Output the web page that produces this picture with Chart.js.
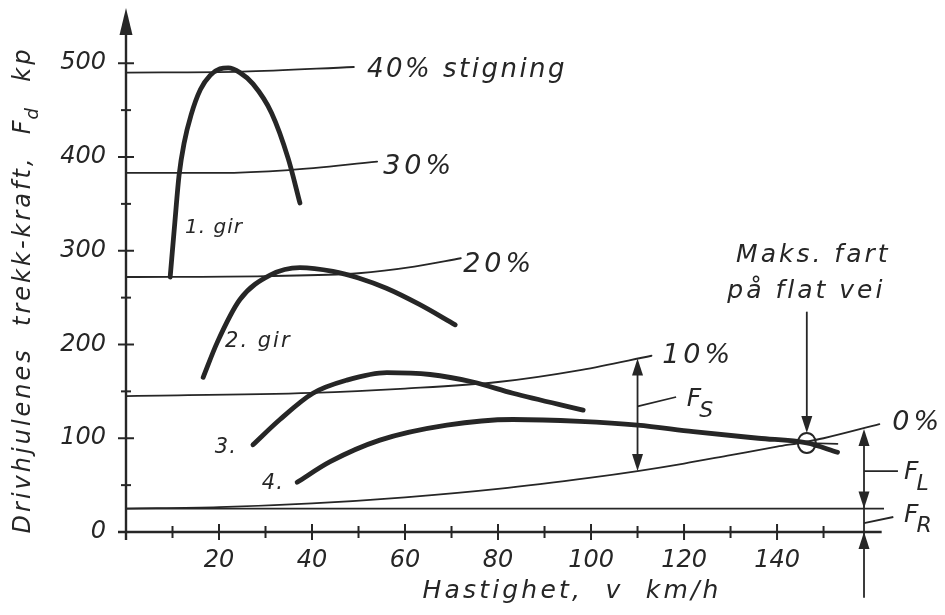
<!DOCTYPE html>
<html>
<head>
<meta charset="utf-8">
<script src="https://cdn.jsdelivr.net/npm/chart.js@4/dist/chart.umd.min.js"></script>
<style>
html,body{margin:0;padding:0;background:#fff;}
#wrap{width:945px;height:615px;position:relative;}
</style>
</head>
<body>
<div id="wrap"><canvas id="c" width="945" height="615"></canvas></div>
<script>
// ---- data (v in km/h, F in kp) ----
const xTickLabels = [20, 40, 60, 80, 100, 120, 140];
const yTickLabels = [0, 100, 200, 300, 400, 500];

const grade40V = [0, 25, 49];
const grade40F = [490, 491, 496];
const grade30V = [0, 20, 35, 54];
const grade30F = [383, 383, 386, 395];
const grade20V = [0, 30, 50, 62, 72];
const grade20F = [272, 273, 276, 283, 292];
const grade10V = [0, 40, 60, 80, 98, 113];
const grade10F = [145, 148.5, 153, 160, 173, 188];
const grade0V = [0, 20, 40, 60, 80, 100, 110, 120, 130, 140, 146, 150, 162];
const grade0F = [25, 26.5, 30.5, 37, 46, 58, 65, 73, 82, 91, 96, 100, 115];
const rollV = [0, 163];
const rollF = [25, 25];

const gear1V = [9.5, 10.5, 11.4, 12.5, 14, 16, 18.1, 20.2, 22, 24.5, 27.3, 31.3, 34.9, 37.4];
const gear1F = [272, 330, 380, 415, 445, 472, 487, 494, 495, 490, 478, 447, 398, 351];
const gear2V = [16.6, 19.6, 24.5, 31, 37.4, 44.5, 50, 56, 63, 70.8];
const gear2F = [165, 202, 248, 274, 282, 278, 271, 260, 243, 221];
const gear3V = [27.3, 33.1, 40.2, 47.5, 56.1, 65.4, 74.6, 83.2, 98.3];
const gear3F = [93, 120, 148, 162, 170, 168, 160, 148, 130];
const gear4V = [36.8, 43.9, 54.6, 69, 83.2, 97.6, 110, 122, 136, 146.4, 153];
const gear4F = [53, 75, 98, 114, 120, 118, 114, 107, 100, 95, 85];
const tailV = [146.4, 153];
const tailF = [95, 94];

// annotation anchors (data units)
const maxSpeed = {v: 146.4, f: 95};
const fsArrow = {v: 110, top: 185, bottom: 65};
const flArrow = {v: 158.7, top: 110, mid: 25};

function pts(vs, fs){ return vs.map((v,i)=>({x:v, y:fs[i]})); }

const INK = '#262626';
function ds(vs, fs, w){
  return {data: pts(vs, fs), borderColor: INK, borderWidth: w, pointRadius: 0,
          cubicInterpolationMode: 'monotone', fill: false, borderCapStyle: 'round', borderJoinStyle: 'round'};
}

const FONT = "'DejaVu Sans'";

function txt(ctx, s, x, y, size, align, spacing){
  ctx.save();
  ctx.font = 'italic ' + size + 'px ' + FONT;
  ctx.letterSpacing = (spacing === undefined ? 2 : spacing) + 'px';
  ctx.fillStyle = INK;
  ctx.textBaseline = 'middle';
  ctx.textAlign = align || 'left';
  ctx.fillText(s, x, y);
  const w = ctx.measureText(s).width;
  ctx.restore();
  return w;
}
function subLabel(ctx, main, sub, x, y, size){
  const w = txt(ctx, main, x, y, size, 'left', 1);
  txt(ctx, sub, x + w - 3, y + 11, size - 3, 'left', 1);
}
function arrowHead(ctx, x, y, dir){
  const L = 17, H = 5.5;
  const s = dir === 'up' ? 1 : -1;
  ctx.beginPath();
  ctx.moveTo(x, y);
  ctx.lineTo(x - H, y + s*L);
  ctx.lineTo(x + H, y + s*L);
  ctx.closePath();
  ctx.fill();
}
function line(ctx, x1, y1, x2, y2, w){
  ctx.lineWidth = w; ctx.beginPath(); ctx.moveTo(x1,y1); ctx.lineTo(x2,y2); ctx.stroke();
}

const decor = {
  id: 'decor',
  beforeDraw(chart){
    const ctx = chart.ctx;
    ctx.save(); ctx.fillStyle = '#fff'; ctx.fillRect(0,0,chart.width,chart.height); ctx.restore();
  },
  afterDraw(chart){
    const ctx = chart.ctx;
    const X = v => chart.scales.x.getPixelForValue(v);
    const Y = f => chart.scales.y.getPixelForValue(f);
    ctx.save();
    ctx.strokeStyle = INK; ctx.fillStyle = INK; ctx.lineCap = 'butt';
    // axes
    const x0 = X(0), y0 = Y(0);
    line(ctx, x0, y0 + 8, x0, 30, 2.4);
    ctx.beginPath(); ctx.moveTo(x0, 8); ctx.lineTo(x0 - 6.5, 35); ctx.lineTo(x0 + 6.5, 35); ctx.closePath(); ctx.fill();
    line(ctx, x0 - 8, y0, X(162.5), y0, 2.4);
    for (let f = 50; f <= 500; f += 50){
      const big = f % 100 === 0;
      line(ctx, x0 - (big ? 8 : 5), Y(f), x0 + (big ? 8 : 5), Y(f), 2);
    }
    line(ctx, x0 - 8, y0, x0, y0, 2);
    for (let v = 10; v <= 150; v += 10){
      const big = v % 20 === 0;
      line(ctx, X(v), y0 - (big ? 8 : 6), X(v), y0 + (big ? 8 : 6), 2);
    }
    // F_S double arrow
    const xs = X(fsArrow.v);
    line(ctx, xs, Y(fsArrow.top) + 10, xs, Y(fsArrow.bottom) - 10, 1.8);
    arrowHead(ctx, xs, Y(fsArrow.top), 'up');
    arrowHead(ctx, xs, Y(fsArrow.bottom), 'down');
    line(ctx, xs, Y(134), X(118.3), Y(144), 1.8);
    subLabel(ctx, 'F', 'S', X(120.6), Y(141), 25);
    // max speed marker
    const xm = X(maxSpeed.v), ym = Y(maxSpeed.f);
    line(ctx, xm, Y(235), xm, ym - 18, 1.8);
    arrowHead(ctx, xm, ym - 10, 'down');
    ctx.lineWidth = 2; ctx.beginPath(); ctx.ellipse(xm, ym, 9, 10, 0, 0, Math.PI*2); ctx.stroke();
    txt(ctx, 'Maks. fart', X(147.8), Y(295), 25, 'center', 3);
    txt(ctx, 'på flat vei', X(146.3), Y(257), 25, 'center', 3);
    // F_L / F_R
    const xl = X(flArrow.v);
    line(ctx, xl, Y(-70), xl, Y(flArrow.top) + 10, 1.8);
    arrowHead(ctx, xl, Y(flArrow.top), 'up');
    arrowHead(ctx, xl, Y(flArrow.mid), 'down');
    arrowHead(ctx, xl, Y(0), 'up');
    line(ctx, xl, Y(65), X(166), Y(65), 1.8);
    line(ctx, xl, Y(9.5), X(165), Y(16), 1.8);
    subLabel(ctx, 'F', 'L', X(167.3), Y(63), 25);
    subLabel(ctx, 'F', 'R', X(167.3), Y(18), 25);
    // curve labels
    txt(ctx, '40% stigning', X(51.8), Y(493), 26, 'left', 2.5);
    txt(ctx, '30%', X(55.3), Y(389), 27, 'left', 4);
    txt(ctx, '20%', X(72.5), Y(285), 27, 'left', 4);
    txt(ctx, '10%', X(115.3), Y(188), 27, 'left', 4);
    txt(ctx, '0%', X(164.8), Y(116), 27, 'left', 4);
    txt(ctx, '1. gir', X(12.7), Y(325), 20, 'left', 1);
    txt(ctx, '2. gir', X(21.3), Y(203), 21, 'left', 2);
    txt(ctx, '3.', X(19.1), Y(90), 21, 'left', 1);
    txt(ctx, '4.', X(29.2), Y(52), 21, 'left', 1);
    // axis titles
    txt(ctx, 'Hastighet,  v  km/h', 572, 591, 25, 'center', 3.2);
    ctx.save();
    ctx.translate(24, 290);
    ctx.rotate(-Math.PI/2);
    const p1 = 'Drivhjulenes  trekk-kraft,  F', p3 = '  kp';
    ctx.letterSpacing = '3px';
    ctx.font = 'italic 24px ' + FONT;
    const w1 = ctx.measureText(p1).width;
    ctx.font = 'italic 18px ' + FONT;
    const w2 = ctx.measureText('d').width;
    ctx.font = 'italic 24px ' + FONT;
    const w3 = ctx.measureText(p3).width;
    let sx = -(w1 + w2 + w3)/2;
    ctx.fillStyle = INK; ctx.textBaseline = 'middle'; ctx.textAlign = 'left';
    ctx.fillText(p1, sx, 0);
    ctx.font = 'italic 18px ' + FONT;
    ctx.fillText('d', sx + w1 - 2, 9);
    ctx.font = 'italic 24px ' + FONT;
    ctx.fillText(p3, sx + w1 + w2, 0);
    ctx.restore();
    ctx.restore();
  }
};

new Chart(document.getElementById('c'), {
  type: 'line',
  data: {
    datasets: [
      ds(rollV, rollF, 1.8),
      ds(grade0V, grade0F, 1.8),
      ds(grade10V, grade10F, 1.8),
      ds(grade20V, grade20F, 1.8),
      ds(grade30V, grade30F, 1.8),
      ds(grade40V, grade40F, 1.8),
      ds(tailV, tailF, 1.6),
      ds(gear1V, gear1F, 4.8),
      ds(gear2V, gear2F, 4.8),
      ds(gear3V, gear3F, 4.8),
      ds(gear4V, gear4F, 4.8)
    ]
  },
  options: {
    responsive: false,
    animation: false,
    events: [],
    layout: {padding: {left: 0, right: 61, top: 7, bottom: 0}},
    plugins: {legend: {display: false}, tooltip: {enabled: false}},
    scales: {
      x: {
        type: 'linear', min: 0, max: 163,
        grid: {display: false}, border: {display: false},
        ticks: {stepSize: 20, padding: 6, color: INK, maxRotation: 0, autoSkip: false,
          font: {family: 'DejaVu Sans', size: 24, style: 'italic'},
          callback: v => xTickLabels.includes(v) ? String(v) : ''},
        afterFit: s => { s.height = 83; s.paddingLeft = 0; s.paddingRight = 0; }
      },
      y: {
        type: 'linear', min: 0, max: 560,
        grid: {display: false}, border: {display: false},
        ticks: {stepSize: 100, padding: 12, color: INK, autoSkip: false,
          font: {family: 'DejaVu Sans', size: 24, style: 'italic'},
          callback: v => yTickLabels.includes(v) ? String(v) : ''},
        afterFit: s => { s.width = 126; s.paddingTop = 0; s.paddingBottom = 0; }
      }
    }
  },
  plugins: [decor]
});
</script>
</body>
</html>
